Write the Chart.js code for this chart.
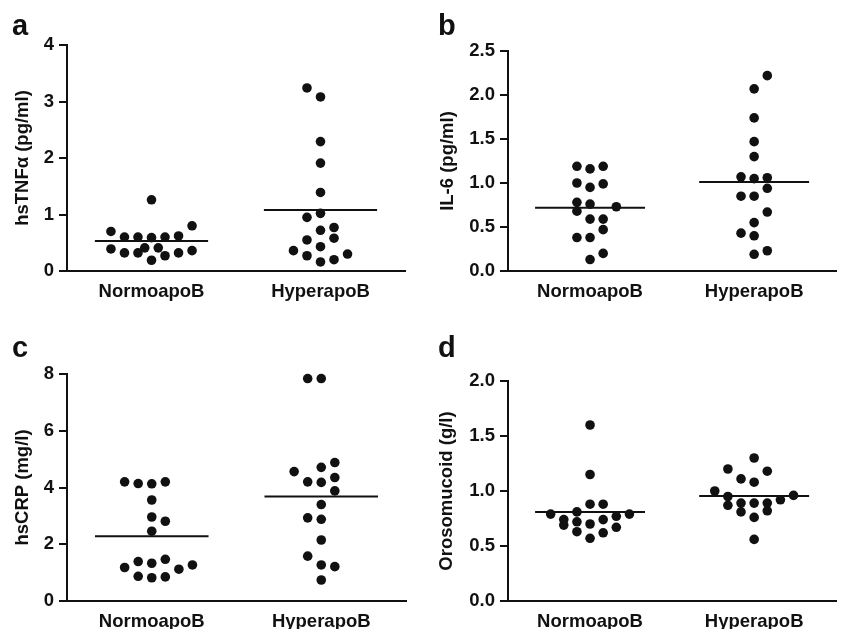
<!DOCTYPE html>
<html>
<head>
<meta charset="utf-8">
<script src="https://cdn.jsdelivr.net/npm/chart.js@4.4.1/dist/chart.umd.min.js"></script>
<style>
  body { margin: 0; background: #fff; width: 841px; height: 629px; position: relative; overflow: hidden; }
  canvas { position: absolute; }
</style>
</head>
<body>
<canvas id="panelA" width="420" height="310" style="left:0;top:0"></canvas>
<canvas id="panelB" width="421" height="310" style="left:420px;top:0"></canvas>
<canvas id="panelC" width="420" height="319" style="left:0;top:310px"></canvas>
<canvas id="panelD" width="421" height="319" style="left:420px;top:310px"></canvas>
<script>
/************ DATA ************/
const groups = ["NormoapoB", "HyperapoB"];

// a: hsTNFα
const tnfNormo    = [1.26, 0.70, 0.60, 0.60, 0.59, 0.60, 0.62, 0.80, 0.39, 0.32, 0.32, 0.41, 0.41, 0.19, 0.27, 0.32, 0.36];
const tnfNormoCol = [0, -3, -2, -1, 0, 1, 2, 3, -3, -2, -1, -0.5, 0.5, 0, 1, 2, 3];
const tnfHyper    = [3.24, 3.08, 2.29, 1.91, 1.39, 1.02, 0.95, 0.72, 0.77, 0.55, 0.58, 0.43, 0.36, 0.27, 0.16, 0.20, 0.30];
const tnfHyperCol = [-1, 0, 0, 0, 0, 0, -1, 0, 1, -1, 1, 0, -2, -1, 0, 1, 2];
const tnfMeans    = [0.53, 1.08];

// b: IL-6
const il6Normo    = [1.19, 1.16, 1.19, 1.00, 0.95, 0.99, 0.78, 0.76, 0.73, 0.68, 0.59, 0.59, 0.47, 0.38, 0.38, 0.20, 0.13];
const il6NormoCol = [-1, 0, 1, -1, 0, 1, -1, 0, 2, -1, 0, 1, 1, -1, 0, 1, 0];
const il6Hyper    = [2.22, 2.07, 1.74, 1.47, 1.30, 1.07, 1.05, 1.06, 0.94, 0.85, 0.85, 0.67, 0.55, 0.43, 0.40, 0.19, 0.23];
const il6HyperCol = [1, 0, 0, 0, 0, -1, 0, 1, 1, -1, 0, 1, 0, -1, 0, 0, 1];
const il6Means    = [0.72, 1.01];

// c: hsCRP
const crpNormo    = [4.20, 4.14, 4.13, 4.20, 3.56, 2.96, 2.81, 2.46, 1.39, 1.33, 1.47, 1.18, 1.12, 1.27, 0.87, 0.82, 0.85];
const crpNormoCol = [-2, -1, 0, 1, 0, 0, 1, 0, -1, 0, 1, -2, 2, 3, -1, 0, 1];
const crpHyper    = [7.84, 7.84, 4.88, 4.71, 4.56, 4.35, 4.20, 4.18, 3.88, 3.40, 2.93, 2.88, 2.15, 1.58, 1.27, 1.21, 0.74];
const crpHyperCol = [-1, 0, 1, 0, -2, 1, -1, 0, 1, 0, -1, 0, 0, -1, 0, 1, 0];
const crpMeans    = [2.28, 3.68];

// d: Orosomucoid
const oroNormo    = [1.60, 1.15, 0.79, 0.74, 0.69, 0.81, 0.72, 0.63, 0.88, 0.70, 0.57, 0.88, 0.74, 0.62, 0.77, 0.67, 0.79];
const oroNormoCol = [0, 0, -3, -2, -2, -1, -1, -1, 0, 0, 0, 1, 1, 1, 2, 2, 3];
const oroHyper    = [1.30, 1.20, 1.18, 1.11, 1.08, 1.00, 0.95, 0.96, 0.92, 0.87, 0.89, 0.89, 0.89, 0.81, 0.82, 0.76, 0.56];
const oroHyperCol = [0, -2, 1, -1, 0, -3, -2, 3, 2, -2, -1, 0, 1, -1, 1, 0, 0];
const oroMeans    = [0.81, 0.955];

/************ STYLE ************/
const INK = "#111";
const FONT = "'Liberation Sans', Arial, sans-serif";
const TXT = 18.5;
const COL_STEP = 0.08;     // x spacing of one dot column
const MEAN_HALF = 0.335;   // half width of the mean bar

function points(vals, cols, center) {
  return vals.map((v, i) => ({ x: center + cols[i] * COL_STEP, y: v }));
}

const letterPlugin = {
  id: "letter",
  afterDraw(chart, args, opts) {
    const ctx = chart.ctx;
    ctx.save();
    ctx.fillStyle = INK;
    ctx.font = "bold 29px " + FONT;
    ctx.textBaseline = "alphabetic";
    ctx.fillText(opts.text, opts.x, opts.y);
    ctx.restore();
  }
};

/************ PANEL ************/
function makePanel(id, p) {
  const dotStyle = {
    type: "scatter", pointRadius: 4.8, pointHoverRadius: 4.8,
    backgroundColor: INK, borderWidth: 0, clip: false
  };
  const meanStyle = {
    type: "scatter", showLine: true, borderColor: INK, borderWidth: 2,
    pointRadius: 0, clip: false
  };

  new Chart(document.getElementById(id), {
    type: "scatter",
    data: {
      datasets: [
        Object.assign({ data: points(p.normo, p.normoCol, 1) }, dotStyle),
        Object.assign({ data: points(p.hyper, p.hyperCol, 2) }, dotStyle),
        Object.assign({ data: [{ x: 1 - MEAN_HALF, y: p.means[0] }, { x: 1 + MEAN_HALF, y: p.means[0] }] }, meanStyle),
        Object.assign({ data: [{ x: 2 - MEAN_HALF, y: p.means[1] }, { x: 2 + MEAN_HALF, y: p.means[1] }] }, meanStyle)
      ]
    },
    options: {
      responsive: false,
      animation: false,
      events: [],
      layout: { padding: { top: p.top, right: p.right, left: 0, bottom: 0 } },
      plugins: {
        legend: { display: false },
        tooltip: { enabled: false },
        letter: { text: p.letter, x: p.letterX, y: p.letterY }
      },
      scales: {
        x: {
          type: "linear", min: 0.5, max: 2.5,
          afterBuildTicks: s => { s.ticks = [{ value: 1 }, { value: 2 }]; },
          afterFit: s => { s.height = p.xAxisH; },
          grid: { display: false, drawTicks: false },
          border: { display: true, color: INK, width: 2 },
          ticks: {
            color: INK, padding: 10,
            font: { family: FONT, size: TXT, weight: "bold" },
            callback: v => groups[v - 1]
          }
        },
        y: {
          min: 0, max: p.yMax,
          afterFit: s => { s.width = p.yAxisW; },
          grid: { display: true, drawOnChartArea: false, drawTicks: true, tickLength: 8, color: INK, lineWidth: 2 },
          border: { display: true, color: INK, width: 2 },
          ticks: {
            stepSize: p.yStep, color: INK, padding: 5,
            font: { family: FONT, size: TXT, weight: "bold" },
            callback: v => v.toFixed(p.decimals)
          },
          title: {
            display: true, text: p.yTitle, color: INK,
            font: { family: FONT, size: TXT, weight: "bold" },
            padding: { top: p.titlePad, bottom: 0 }
          }
        }
      }
    },
    plugins: [letterPlugin]
  });
}

makePanel("panelA", {
  letter: "a", letterX: 12, letterY: 35,
  yTitle: "hsTNFα (pg/ml)", yMax: 4, yStep: 1, decimals: 0,
  normo: tnfNormo, normoCol: tnfNormoCol, hyper: tnfHyper, hyperCol: tnfHyperCol, means: tnfMeans,
  yAxisW: 67, top: 45, right: 15, xAxisH: 39, titlePad: 12
});
makePanel("panelB", {
  letter: "b", letterX: 18, letterY: 35,
  yTitle: "IL-6 (pg/ml)", yMax: 2.5, yStep: 0.5, decimals: 1,
  normo: il6Normo, normoCol: il6NormoCol, hyper: il6Hyper, hyperCol: il6HyperCol, means: il6Means,
  yAxisW: 88, top: 51, right: 3, xAxisH: 39, titlePad: 17
});
makePanel("panelC", {
  letter: "c", letterX: 12, letterY: 47,
  yTitle: "hsCRP (mg/l)", yMax: 8, yStep: 2, decimals: 0,
  normo: crpNormo, normoCol: crpNormoCol, hyper: crpHyper, hyperCol: crpHyperCol, means: crpMeans,
  yAxisW: 67, top: 64, right: 14, xAxisH: 28, titlePad: 12
});
makePanel("panelD", {
  letter: "d", letterX: 18, letterY: 47,
  yTitle: "Orosomucoid (g/l)", yMax: 2, yStep: 0.5, decimals: 1,
  normo: oroNormo, normoCol: oroNormoCol, hyper: oroHyper, hyperCol: oroHyperCol, means: oroMeans,
  yAxisW: 88, top: 71, right: 3, xAxisH: 28, titlePad: 16
});
</script>
</body>
</html>
